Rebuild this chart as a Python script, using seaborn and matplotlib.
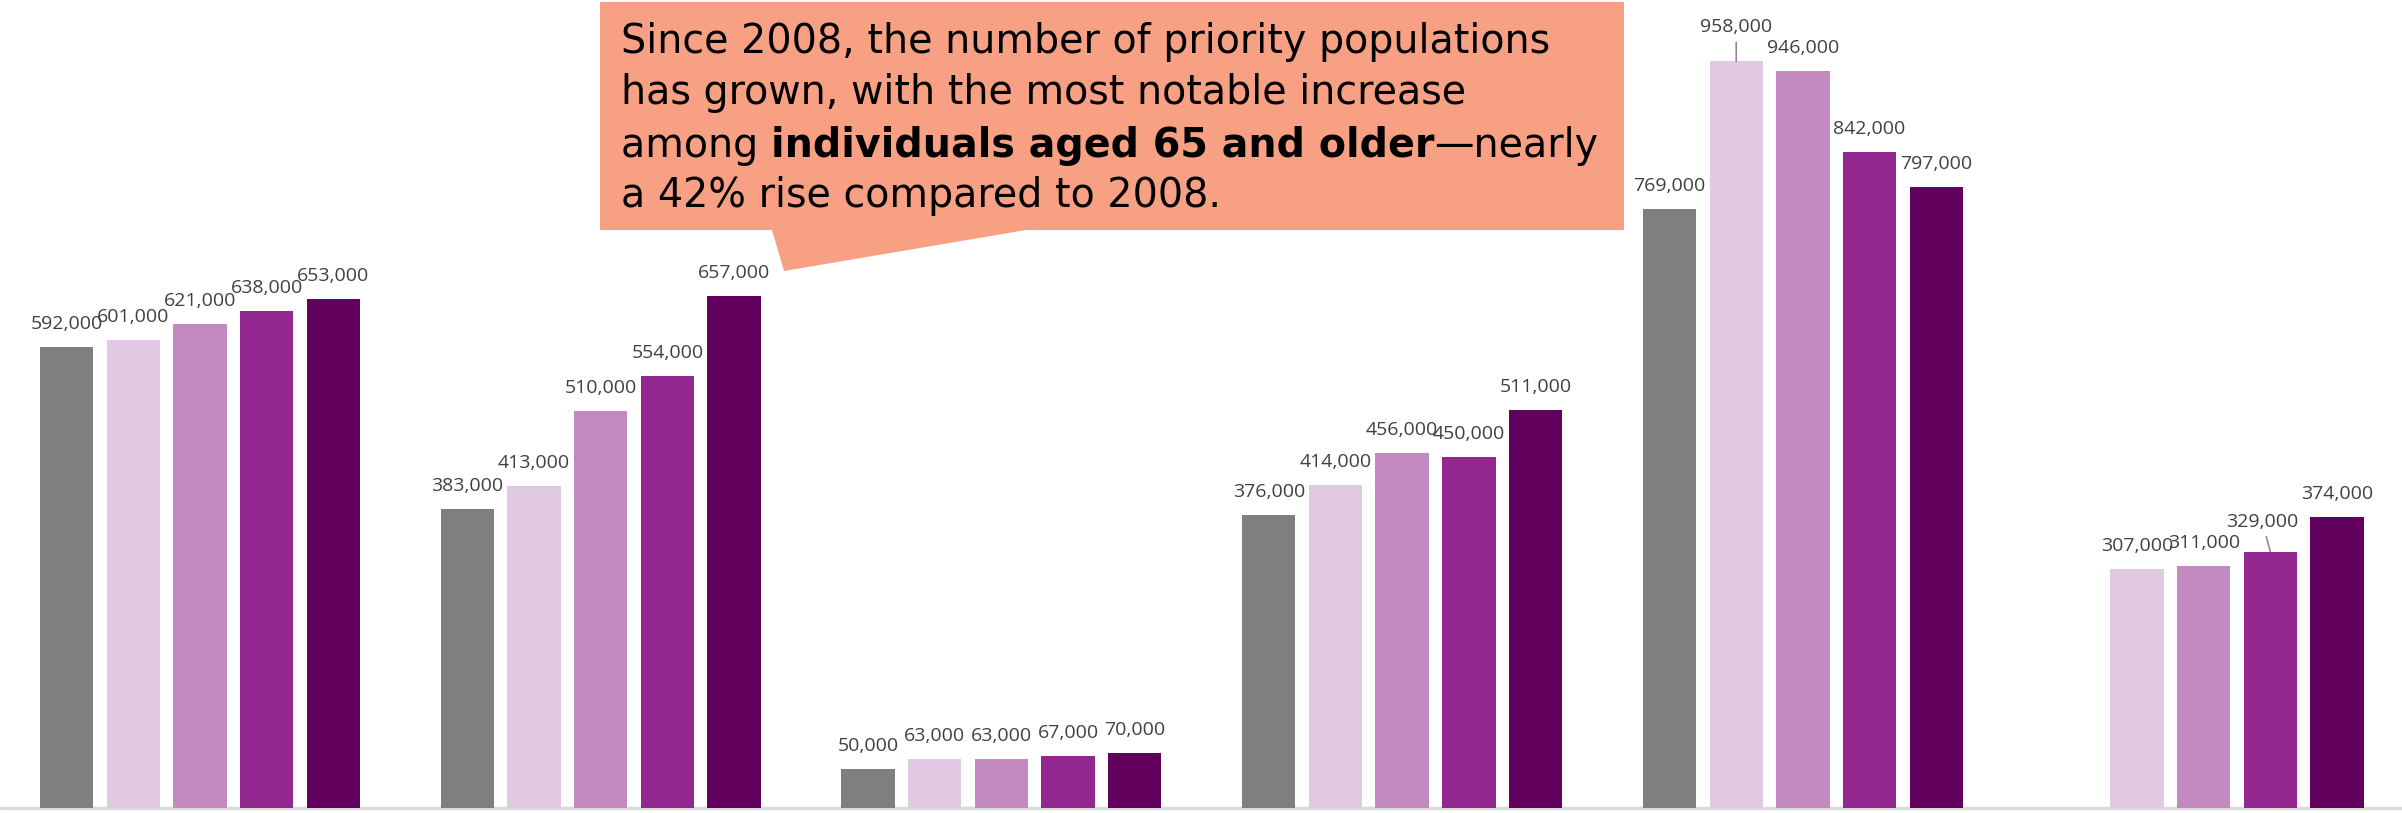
import numpy as np
import pandas as pd
import matplotlib.pyplot as plt
import seaborn as sns
from matplotlib.patches import Polygon

# data (one list per series, one value per group)
groups = ['Group 1', 'Group 2', 'Group 3', 'Group 4', 'Group 5', 'Group 6']
series = ['2008', 'Year 2', 'Year 3', 'Year 4', 'Year 5']
vals_2008 = [592000, 383000, 50000, 376000, 769000, np.nan]
vals_y2 = [601000, 413000, 63000, 414000, 958000, 307000]
vals_y3 = [621000, 510000, 63000, 456000, 946000, 311000]
vals_y4 = [638000, 554000, 67000, 450000, 842000, 329000]
vals_y5 = [653000, 657000, 70000, 511000, 797000, 374000]
colors = ['#7f7f7f', '#e2c9e3', '#c389c1', '#92278f', '#62005e']

callout_lines = ['Since 2008, the number of priority populations',
                 'has grown, with the most notable increase',
                 'among ', 'a 42% rise compared to 2008.']
callout_bold = 'individuals aged 65 and older'
callout_tail = '\u2014nearly'

rows = []
for s, vals in zip(series, [vals_2008, vals_y2, vals_y3, vals_y4, vals_y5]):
    for g, v in zip(groups, vals):
        rows.append({'group': g, 'series': s, 'value': v})
df = pd.DataFrame(rows).dropna()

sns.set_style('white')
plt.rcParams['font.family'] = ['Open Sans', 'DejaVu Sans']

W, H = 2402, 813
fig = plt.figure(figsize=(W / 100, H / 100), dpi=100)
ax = fig.add_axes([0, 5 / H, 1, 1 - 5 / H])

width = 0.832
slot = width / len(series)
sns.barplot(data=df, x='group', y='value', hue='series', order=groups,
            hue_order=series, palette=colors, width=width, gap=0.2,
            saturation=1, errorbar=None, linewidth=0, legend=False, ax=ax)

ax.set_xlim(-0.499, 5.495)
ax.set_ylim(0, 1.0367e6)
ax.axis('off')
ax.axhline(0, color='#dadada', lw=2.5, clip_on=False, zorder=0)

# labels that were nudged in the original, with a leader line
special = {(1, 4): (0, 29), (3, 5): (-8, 25)}

for p in ax.patches:
    h = p.get_height()
    if not np.isfinite(h) or h <= 0:
        continue
    xc = p.get_x() + p.get_width() / 2
    gi = int(round(xc))
    si = int(round((xc - gi) / slot + 2))
    kw = {}
    dx, dy = 0, 18
    if (si, gi) in special:
        dx, dy = special[(si, gi)]
        kw['arrowprops'] = dict(arrowstyle='-', color='#8c8c8c', lw=1.2,
                                shrinkA=2, shrinkB=0)
    ax.annotate(f'{h:,.0f}', xy=(xc, h), xytext=(dx, dy),
                textcoords='offset pixels', ha='center', va='baseline',
                fontsize=14, color='#404040', **kw)

# callout box
def fpt(x, y):
    return (x / W, 1 - y / H)

box = [fpt(600, 2), fpt(1624, 2), fpt(1624, 230), fpt(1026, 230),
       fpt(784, 271), fpt(772, 230), fpt(600, 230)]
fig.add_artist(Polygon(box, closed=True, transform=fig.transFigure,
                       facecolor='#f8a083', edgecolor='none', zorder=5))

fs = 28.5
cfont = ['DejaVu Sans']
x0 = 621 / W
baselines = [53.5, 104, 156.5, 207]
r = fig.canvas.get_renderer()
for i, (line, yb) in enumerate(zip(callout_lines, baselines)):
    t = fig.text(x0, 1 - yb / H, line, fontsize=fs, va='baseline',
                 family=cfont, color='black', zorder=6)
    if i == 2:
        bb = t.get_window_extent(r)
        tb = fig.text(bb.x1 / W, 1 - yb / H, callout_bold, fontsize=fs,
                      family=cfont, fontweight='bold', va='baseline',
                      color='black', zorder=6)
        bb2 = tb.get_window_extent(r)
        fig.text(bb2.x1 / W, 1 - yb / H, callout_tail, fontsize=fs,
                 family=cfont, va='baseline', color='black', zorder=6)

fig.savefig('out.png', dpi=100)
